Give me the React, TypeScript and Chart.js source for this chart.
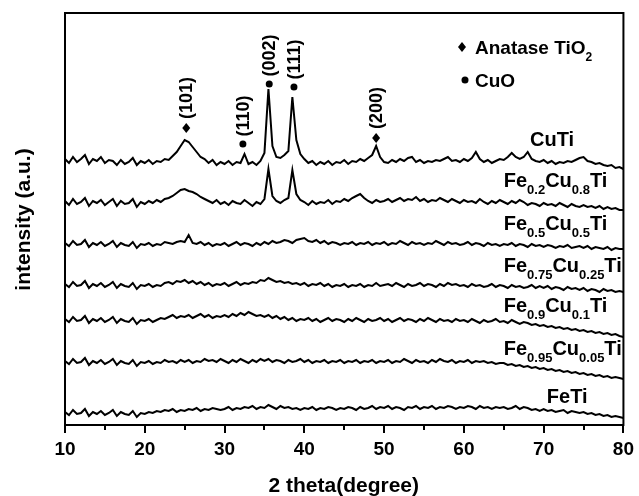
import React, { useEffect, useRef } from 'react';
import { Chart, registerables } from 'chart.js';

Chart.register(...registerables);

// 2θ sampling grid (degrees), 0.5° step from 10 to 80
const twoTheta: number[] = Array.from({ length: 141 }, (_, i) => 10 + i * 0.5);

// Intensities (a.u., stacked offsets as plotted)
const cuTi = [
  266, 262, 268, 263, 266, 270, 261, 266, 264, 268,
  262, 265, 264, 260, 265, 261, 263, 267, 260, 264,
  262, 265, 261, 264, 263, 266, 265, 269, 273, 279,
  285, 283, 278, 273, 268, 266, 262, 265, 260, 263,
  261, 264, 260, 263, 262, 271, 261, 263, 260, 264,
  272, 336, 279, 268, 267, 270, 274, 328, 285, 271,
  266, 262, 264, 260, 263, 261, 264, 260, 263, 262,
  265, 261, 264, 263, 266, 264, 267, 270, 279, 268,
  263, 262, 265, 263, 266, 264, 267, 268, 263, 265,
  262, 264, 263, 265, 264, 266, 268, 264, 265, 263,
  266, 264, 267, 273, 266, 263, 265, 262, 264, 266,
  265, 268, 272, 268, 266, 268, 273, 266, 264, 263,
  265, 262, 264, 261, 263, 262, 264, 263, 265, 267,
  268, 264, 263, 261, 262, 260, 259, 260, 257, 258,
  256,
];

const fe02Cu08Ti = [
  224, 220, 226, 221, 223, 227, 219, 224, 222, 225,
  220, 223, 226, 219, 224, 221, 222, 226, 218, 223,
  221, 224, 222, 225, 223, 226, 227, 229, 232, 235,
  236, 234, 233, 231, 228, 226, 224, 222, 225, 221,
  223, 220, 224, 222, 221, 225, 222, 219, 223, 221,
  226, 256, 229, 224, 222, 225, 227, 255, 231, 225,
  223, 220, 224, 221, 223, 222, 225, 221, 224, 223,
  226, 224, 227, 229, 231, 227, 224, 222, 225, 223,
  224, 226, 223, 225, 227, 224, 226, 225, 228, 224,
  226, 223, 225, 224, 227, 225, 223, 226, 224, 222,
  225, 223, 224, 222, 226, 223, 221, 224, 222, 225,
  223, 221, 224, 222, 225, 223, 220, 222, 221, 219,
  222, 220, 221, 219, 222, 220, 218, 221, 219, 218,
  220, 218, 219, 217, 219, 216, 218, 216, 217, 215,
  215,
];

const fe05Cu05Ti = [
  182, 179, 184, 180, 181, 185, 178, 182, 180, 183,
  179, 181, 184, 178, 182, 180, 179, 183, 177, 181,
  180, 182, 179, 181, 180, 183, 182, 181, 183, 184,
  183, 190, 182, 181, 183, 180, 182, 179, 181, 180,
  182, 179, 181, 183, 180, 182, 181, 179, 182, 180,
  183, 181, 184, 182, 183, 185, 184, 182, 185, 186,
  187, 184, 183, 185, 182, 184, 181, 183, 182, 180,
  182, 181, 183, 180, 182, 181, 183, 180, 182, 181,
  183, 180, 182, 181, 184, 182, 180, 183, 181, 182,
  180, 182, 181, 184, 182, 180, 183, 181, 182, 180,
  181, 183, 180, 182, 181, 179, 182, 180, 181, 179,
  181, 180, 182, 179, 181, 180, 178, 181, 179, 180,
  178, 180, 179, 177, 179, 178, 180, 177, 178, 179,
  177, 179, 176, 178, 177, 176, 178, 175, 177, 176,
  176,
];

const fe075Cu025Ti = [
  141, 138, 143, 139, 140, 144, 137, 141, 139, 142,
  138, 140, 143, 137, 141, 139, 138, 142, 136, 140,
  139, 141, 138, 140, 139, 142, 143, 141, 144, 143,
  145, 142, 144, 141, 143, 140, 142, 139, 141, 140,
  142, 139, 141, 143, 140, 142, 141, 143, 142, 145,
  144, 147, 145, 143, 144, 142, 143, 141, 142, 140,
  142, 139, 141, 140, 142, 139, 141, 138, 140, 139,
  141, 138, 140, 139, 141, 138, 140, 139, 142, 139,
  140, 141, 139, 142, 140, 138, 141, 139, 140, 142,
  139, 141, 140, 138, 141, 139, 142, 140, 141, 139,
  140, 138, 141, 139, 140, 138, 139, 141, 138, 140,
  139, 137, 140, 138, 139, 137, 138, 140, 137, 139,
  137, 139, 136, 138, 137, 135, 138, 136, 137, 135,
  137, 134, 136, 135, 133, 136, 134, 135, 133, 134,
  133,
];

const fe09Cu01Ti = [
  106, 103, 108, 104, 105, 109, 102, 106, 104, 107,
  103, 105, 108, 102, 106, 104, 103, 107, 101, 105,
  104, 106, 103, 105, 107, 106, 108, 110, 107, 109,
  108, 110, 107, 109, 111, 108, 110, 107, 109, 108,
  110, 108, 111, 109, 112, 110, 113, 111, 109, 110,
  108, 110, 107, 109, 106, 108, 105, 107, 104, 106,
  105, 107, 104, 106, 103, 105, 107, 104, 106, 105,
  103, 106, 104, 107, 105, 103, 106, 104, 105, 107,
  104, 106, 103, 105, 107, 104, 106, 105, 103, 106,
  104, 107, 105, 103, 106, 104, 105, 103, 106, 104,
  105, 103, 106, 104, 102, 105, 103, 104, 106, 103,
  104, 102, 105, 103, 101, 103, 102, 100, 101, 99,
  100, 98, 99, 97, 98, 96, 97, 95, 96, 94,
  95, 93, 94, 92, 93, 91, 92, 90, 91, 89,
  88,
];

const fe095Cu005Ti = [
  64, 61, 66, 62, 63, 67, 60, 64, 62, 65,
  61, 63, 66, 60, 64, 62, 61, 65, 59, 63,
  62, 64, 61, 63, 62, 65, 63, 64, 62, 65,
  63, 65, 62, 64, 63, 66, 64, 65, 63, 66,
  64, 62, 65, 63, 66, 64, 62, 65, 63, 66,
  64, 66, 63, 65, 64, 62, 65, 63, 64, 66,
  63, 65, 62, 64, 63, 65, 62, 64, 63, 65,
  62, 64, 63, 65, 62, 64, 63, 65, 62, 64,
  63, 65, 62, 64, 63, 66, 64, 62, 65, 63,
  64, 62, 65, 63, 66, 64, 63, 65, 62, 64,
  63, 65, 62, 64, 63, 64, 62, 63, 61, 62,
  62, 60, 61, 59, 60, 58, 59, 57, 58, 56,
  57, 55, 56, 54, 55, 53, 54, 52, 53, 51,
  52, 50, 51, 49, 50, 48, 49, 47, 48, 47,
  46,
];

const feTi = [
  13, 10, 15, 11, 12, 16, 9, 13, 11, 14,
  10, 12, 15, 9, 13, 11, 10, 14, 8, 12,
  11, 13, 12, 14, 13, 15, 14, 16, 13, 15,
  14, 16, 15, 17, 14, 16, 15, 17, 16, 15,
  16, 18, 15, 17, 16, 18, 17, 19, 16, 18,
  17, 20, 18, 16, 19, 17, 18, 16, 17, 15,
  17, 16, 18, 15, 17, 16, 18, 17, 15, 17,
  16, 18, 17, 15, 18, 16, 17, 19, 16, 18,
  17, 19, 16, 18, 17, 15, 18, 17, 19, 16,
  18, 17, 19, 16, 18, 17, 19, 18, 16, 18,
  17, 19, 18, 16, 19, 17, 18, 16, 18, 17,
  18, 16, 17, 19, 16, 18, 17, 15, 16, 14,
  16, 14, 15, 13, 14, 15, 12, 14, 13, 12,
  13, 11, 12, 10, 11, 9, 10, 8, 9, 8,
  7,
];

const seriesValues = [cuTi, fe02Cu08Ti, fe05Cu05Ti, fe075Cu025Ti, fe09Cu01Ti, fe095Cu005Ti, feTi];
const seriesNames = [
  'CuTi',
  'Fe_{0.2}Cu_{0.8}Ti',
  'Fe_{0.5}Cu_{0.5}Ti',
  'Fe_{0.75}Cu_{0.25}Ti',
  'Fe_{0.9}Cu_{0.1}Ti',
  'Fe_{0.95}Cu_{0.05}Ti',
  'FeTi',
];
const seriesLabelAngle = [68.3, 65, 65, 65, 65, 65, 70.4];
const seriesLabelLevel = [279, 238, 195, 153, 113, 70, 22];

const peakLabels = ['(101)', '(110)', '(002)', '(111)', '(200)'];
const peakAngles = [25.2, 32.3, 35.6, 38.7, 49.0];
const peakLevels = [297, 281, 341, 338, 287];
const peakPhase = ['anatase', 'cuo', 'cuo', 'cuo', 'anatase'];

const legendNames = ['Anatase TiO_{2}', 'CuO'];
const legendPhase = ['anatase', 'cuo'];

const minorTicks = [15, 25, 35, 45, 55, 65, 75];

const FONT = '"Liberation Sans", Arial, Helvetica, sans-serif';

function drawDiamond(ctx: CanvasRenderingContext2D, x: number, y: number) {
  ctx.beginPath();
  ctx.moveTo(x, y - 5);
  ctx.lineTo(x + 4, y);
  ctx.lineTo(x, y + 5);
  ctx.lineTo(x - 4, y);
  ctx.closePath();
  ctx.fill();
}
function drawDot(ctx: CanvasRenderingContext2D, x: number, y: number) {
  ctx.beginPath();
  ctx.arc(x, y, 3.5, 0, Math.PI * 2);
  ctx.fill();
}
function drawMarker(ctx: CanvasRenderingContext2D, kind: string, x: number, y: number) {
  if (kind === 'anatase') drawDiamond(ctx, x, y);
  else drawDot(ctx, x, y);
}

// draw text like "Fe_{0.2}Cu_{0.8}Ti" with subscripts, left-aligned at baseline
function drawSubText(ctx: CanvasRenderingContext2D, s: string, x: number, y: number, size: number) {
  const parts = s.split(/_\{([^}]*)\}/);
  let cx = x;
  ctx.textAlign = 'left';
  ctx.textBaseline = 'alphabetic';
  parts.forEach((p, i) => {
    if (!p) return;
    const sub = i % 2 === 1;
    ctx.font = `bold ${sub ? Math.round(size * 0.65) : size}px ${FONT}`;
    ctx.fillText(p, cx, sub ? y + 7 : y);
    cx += ctx.measureText(p).width;
  });
}

const annotations = {
  id: 'xrdAnnotations',
  afterDraw(chart: any) {
    const ctx: CanvasRenderingContext2D = chart.ctx;
    const { left, right, top, bottom } = chart.chartArea;
    const xs = chart.scales.x;
    const ys = chart.scales.y;
    ctx.save();
    ctx.fillStyle = '#000';
    ctx.strokeStyle = '#000';

    // frame
    ctx.lineWidth = 2;
    ctx.strokeRect(left, top, right - left, bottom - top);

    // minor ticks
    ctx.lineWidth = 2;
    minorTicks.forEach((v) => {
      const px = Math.round(xs.getPixelForValue(v));
      ctx.beginPath();
      ctx.moveTo(px, bottom);
      ctx.lineTo(px, bottom + 5);
      ctx.stroke();
    });

    // peak annotations
    peakLabels.forEach((lab, i) => {
      const px = xs.getPixelForValue(peakAngles[i]);
      const py = ys.getPixelForValue(peakLevels[i]);
      drawMarker(ctx, peakPhase[i], px, py);
      const half = peakPhase[i] === 'anatase' ? 5 : 3.5;
      ctx.save();
      ctx.translate(px + 1, py - half - 4);
      ctx.rotate(-Math.PI / 2);
      ctx.font = `bold 18px ${FONT}`;
      ctx.textAlign = 'left';
      ctx.textBaseline = 'middle';
      ctx.fillText(lab, 0, 0);
      ctx.restore();
    });

    // legend
    legendNames.forEach((name, i) => {
      const mx = left + 397 + (i === 1 ? 3 : 0);
      const my = top + 34 + i * 33;
      drawMarker(ctx, legendPhase[i], mx, my);
      drawSubText(ctx, name, left + 410, my + 7, 19);
    });

    // series labels
    seriesNames.forEach((name, i) => {
      const px = xs.getPixelForValue(seriesLabelAngle[i]);
      const py = ys.getPixelForValue(seriesLabelLevel[i]);
      drawSubText(ctx, name, px, py, 20);
    });

    // axis titles
    ctx.font = `bold 21px ${FONT}`;
    ctx.textAlign = 'center';
    ctx.textBaseline = 'alphabetic';
    ctx.fillText('2 theta(degree)', (left + right) / 2 - 0.5, bottom + 67);
    ctx.save();
    ctx.translate(30, (top + bottom) / 2 + 0.5);
    ctx.rotate(-Math.PI / 2);
    ctx.fillText('intensity (a.u.)', 0, 0);
    ctx.restore();

    ctx.restore();
  },
};

export default function App() {
  const ref = useRef<HTMLCanvasElement>(null);
  useEffect(() => {
    if (!ref.current) return;
    const chart = new Chart(ref.current, {
      type: 'line',
      data: {
        datasets: seriesValues.map((vals, k) => ({
          label: seriesNames[k],
          data: vals.map((v, i) => ({ x: twoTheta[i], y: v })),
          borderColor: '#000',
          borderWidth: 2,
          pointRadius: 0,
          tension: 0,
          fill: false,
        })),
      },
      options: {
        animation: false,
        responsive: false,
        events: [],
        layout: { padding: { top: 13, right: 12, left: 0, bottom: 0 } },
        plugins: { legend: { display: false }, tooltip: { enabled: false } },
        scales: {
          x: {
            type: 'linear',
            min: 10,
            max: 80,
            afterFit: (s: any) => { s.height = 71; },
            afterBuildTicks: (s: any) => {
              s.ticks = [10, 20, 30, 40, 50, 60, 70, 80].map((v) => ({ value: v }));
            },
            ticks: {
              color: '#000',
              font: { family: FONT, size: 19, weight: 'bold' },
              padding: 5,
              maxRotation: 0,
              autoSkip: false,
            },
            grid: { drawOnChartArea: false, drawTicks: true, tickLength: 8, color: '#000', lineWidth: 2 },
            border: { display: true, color: '#000', width: 2 },
          },
          y: {
            type: 'linear',
            min: 0,
            max: 412,
            afterFit: (s: any) => { s.width = 65; },
            ticks: { display: false },
            grid: { display: false },
            border: { display: true, color: '#000', width: 2 },
          },
        },
      },
      plugins: [annotations],
    });
    return () => chart.destroy();
  }, []);
  return (
    <div style={{ position: 'absolute', left: 0, top: 0, width: 639, height: 496, background: '#fff' }}>
      <canvas ref={ref} width={639} height={496} />
    </div>
  );
}
